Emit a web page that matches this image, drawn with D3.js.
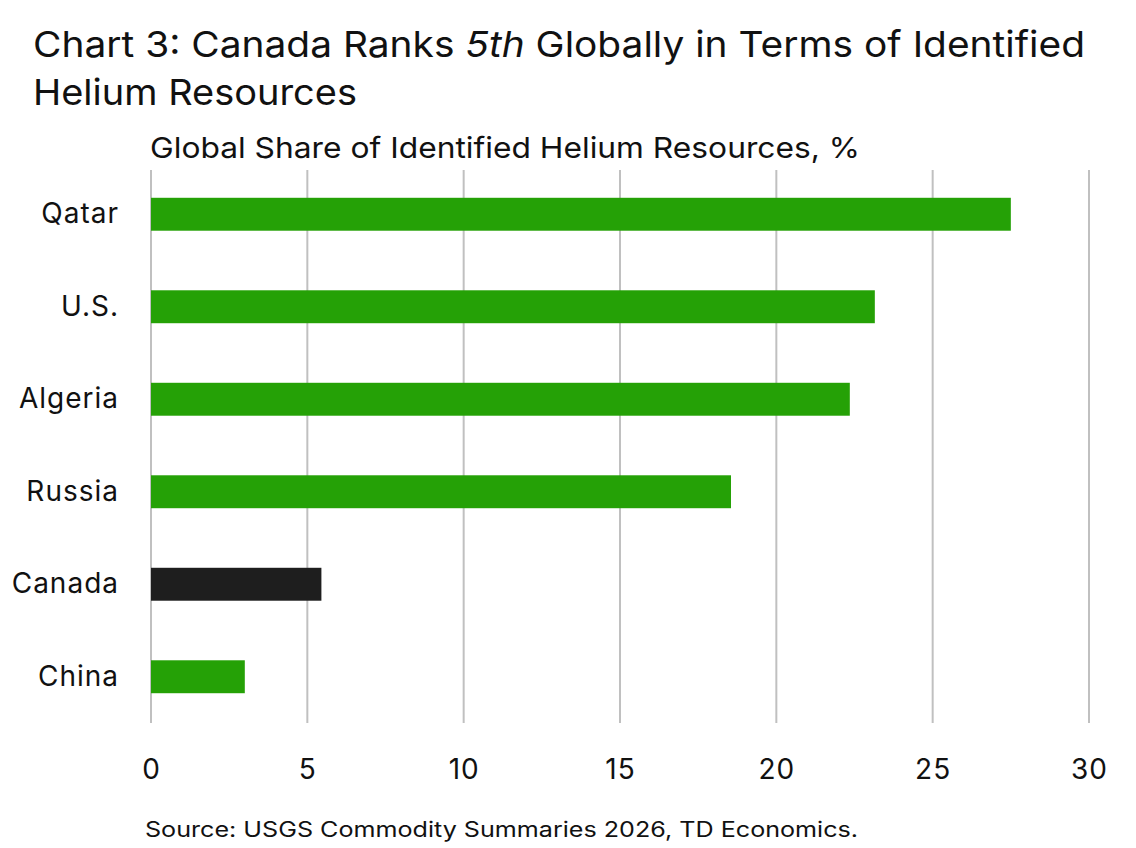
<!DOCTYPE html>
<html lang="en">
<head>
<meta charset="UTF-8">
<title>Chart 3</title>
<script src="https://d3js.org/d3.v7.min.js"></script>
<style>
    body { margin: 0; padding: 0; background: #fff; }
    text { font-family: "Inter", "Noto Sans", sans-serif; fill: #111; }
</style>
</head>
<body>
<svg width="1136" height="848"></svg>
<script>
    const countries = ["Qatar", "U.S.", "Algeria", "Russia", "Canada", "China"];
    const shares = [27.5, 23.15, 22.35, 18.55, 5.45, 3.0];
    const highlight = ["Canada"];
    const xTicks = [0, 5, 10, 15, 20, 25, 30];

    const svg = d3.select("svg");

    const x = d3.scaleLinear().domain([0, 30]).range([151, 1089]);
    const y = d3.scaleBand().domain(countries).range([168, 723])
        .paddingInner(0.644).paddingOuter(0.322);

    // title (reference font is wider, so stretch to its width)
    const title = svg.append("text").attr("x", 33).attr("y", 57)
        .attr("font-size", 36).attr("textLength", 1052)
        .attr("lengthAdjust", "spacingAndGlyphs");
    title.append("tspan").text("Chart 3: Canada Ranks ");
    title.append("tspan").attr("font-style", "italic").text("5th");
    title.append("tspan").text(" Globally in Terms of Identified");
    svg.append("text").attr("x", 33).attr("y", 105)
        .attr("font-size", 36).attr("textLength", 324)
        .attr("lengthAdjust", "spacingAndGlyphs").text("Helium Resources");

    svg.append("text").attr("x", 150).attr("y", 158)
        .attr("font-size", 29).attr("textLength", 710)
        .attr("lengthAdjust", "spacingAndGlyphs")
        .text("Global Share of Identified Helium Resources, %");

    // gridlines
    svg.append("g").selectAll("line").data(xTicks).join("line")
        .attr("x1", d => x(d)).attr("x2", d => x(d))
        .attr("y1", 170).attr("y2", 723)
        .attr("stroke", "#c0c0c0").attr("stroke-width", 2);

    // bars
    svg.append("g").selectAll("rect").data(countries).join("rect")
        .attr("x", x(0))
        .attr("y", d => y(d))
        .attr("width", (d, i) => x(shares[i]) - x(0))
        .attr("height", y.bandwidth())
        .attr("fill", d => highlight.includes(d) ? "#1e1e1e" : "#25a106");

    // x axis
    const xAxis = svg.append("g").attr("transform", "translate(0,723)")
        .call(d3.axisBottom(x).tickValues(xTicks).tickSize(0).tickPadding(36));
    xAxis.select(".domain").remove();
    xAxis.selectAll("text").attr("font-size", 28).attr("fill", "#111")
        .attr("letter-spacing", 1)
        .attr("font-family", "Inter, 'Noto Sans', sans-serif");

    // y axis
    const yAxis = svg.append("g").attr("transform", "translate(151,0)")
        .call(d3.axisLeft(y).tickSize(0).tickPadding(32));
    yAxis.select(".domain").remove();
    yAxis.selectAll("text").attr("font-size", 28).attr("fill", "#111")
        .attr("letter-spacing", 1)
        .attr("font-family", "Inter, 'Noto Sans', sans-serif");

    svg.append("text").attr("x", 145).attr("y", 837)
        .attr("font-size", 21).attr("textLength", 713)
        .attr("lengthAdjust", "spacingAndGlyphs")
        .text("Source: USGS Commodity Summaries 2026, TD Economics.");
</script>
</body>
</html>
